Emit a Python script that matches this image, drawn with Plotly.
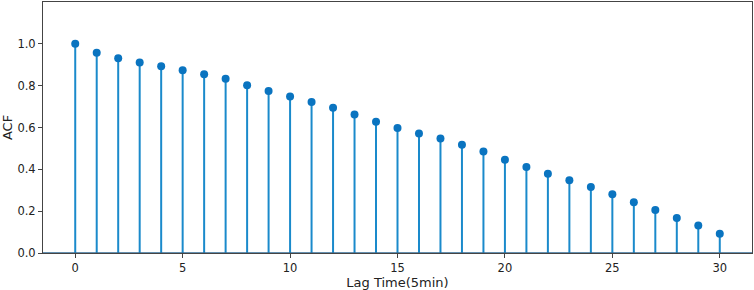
import plotly.graph_objects as go

lags = list(range(31))
acf = [1.0, 0.957, 0.931, 0.911, 0.893, 0.874, 0.855, 0.833, 0.802, 0.775,
       0.748, 0.722, 0.694, 0.662, 0.628, 0.598, 0.571, 0.547, 0.517, 0.485,
       0.446, 0.411, 0.379, 0.348, 0.316, 0.281, 0.243, 0.206, 0.167, 0.131, 0.092]
x_ticks = [0, 5, 10, 15, 20, 25, 30]
y_ticks = [0.0, 0.2, 0.4, 0.6, 0.8, 1.0]
y_tick_labels = ["0.0", "0.2", "0.4", "0.6", "0.8", "1.0"]

stem_x, stem_y = [], []
for lx, v in zip(lags, acf):
    stem_x += [lx, lx, None]
    stem_y += [0, v, None]

fig = go.Figure()
fig.add_trace(go.Scatter(x=stem_x, y=stem_y, mode="lines",
                         line=dict(color="#1a8acb", width=2), hoverinfo="skip"))
fig.add_trace(go.Scatter(x=[-1.5, 31.5], y=[0, 0], mode="lines",
                         line=dict(color="#336b94", width=1.5), hoverinfo="skip"))
fig.add_trace(go.Scatter(x=lags, y=acf, mode="markers",
                         marker=dict(color="#0a74c0", size=8)))

axis_font = dict(family="DejaVu Sans", size=11.5, color="#222")
fig.update_layout(
    width=754, height=290,
    margin=dict(l=43, r=2, t=2, b=37),
    paper_bgcolor="white", plot_bgcolor="white",
    showlegend=False,
    font=dict(family="DejaVu Sans", size=11.5, color="#222"),
)
fig.update_xaxes(range=[-1.5, 31.5], tickvals=x_ticks, ticks="outside", ticklen=4,
                 tickcolor="#444", showgrid=False, zeroline=False, automargin=False,
                 showline=True, linecolor="#444", linewidth=1, mirror=True,
                 tickfont=axis_font,
                 title=dict(text="Lag Time(5min)", font=dict(family="DejaVu Sans", size=13, color="#222"), standoff=2))
fig.update_yaxes(range=[0, 1.2], tickvals=y_ticks, ticktext=y_tick_labels, ticks="outside", ticklen=4,
                 tickcolor="#444", showgrid=False, zeroline=False, automargin=False,
                 showline=True, linecolor="#444", linewidth=1, mirror=True,
                 tickfont=axis_font,
                 title=dict(text="ACF", font=dict(family="DejaVu Sans", size=13, color="#222"), standoff=4))

fig.write_html("out.html", config={"displayModeBar": False},
               post_script="document.body.style.margin='0';document.body.style.overflow='hidden';")
